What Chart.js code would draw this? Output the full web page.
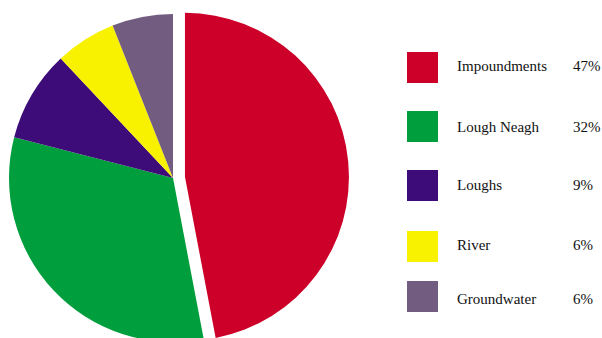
<!DOCTYPE html>
<html>
<head>
<meta charset="utf-8">
<title>Water sources</title>
<script src="https://cdn.jsdelivr.net/npm/chart.js@4/dist/chart.umd.min.js"></script>
<style>
  html, body { margin: 0; padding: 0; background: #fff; overflow: hidden; }
  body { width: 602px; height: 338px; position: relative; }
  .pie-wrap { position: absolute; left: 0; top: 0; width: 380px; height: 356px; }
  .legend { position: absolute; left: 407px; top: 0; font-family: "Liberation Serif", "DejaVu Serif", serif; font-size: 15px; color: #111; }
  .legend .box { position: absolute; left: 0; width: 31px; height: 31px; }
  .legend .name { position: absolute; left: 50px; white-space: nowrap; line-height: 17px; }
  .legend .pct { position: absolute; left: 166px; line-height: 17px; }
</style>
</head>
<body>
<div class="pie-wrap"><canvas id="sourcesChart"></canvas></div>
<div class="legend" id="legend"></div>
<script>
  // share of supply by source (%)
  const sources = ["Impoundments", "Lough Neagh", "Loughs", "River", "Groundwater"];
  const shares = [47, 32, 9, 6, 6];
  const colours = ["#cc0029", "#009e3d", "#3d0c78", "#f8f200", "#725c80"];

  // how far each slice is pulled out of the pie, in px
  const explode = [12, 0, 0, 0, 0];
  // legend rows: swatch tops and text tops
  const boxTops = [52, 111, 170, 231, 281];
  const textTops = [58, 119, 177, 237, 291];

  // move exploded slices along their mid angle without growing them
  const explodePlugin = {
    id: "explode",
    afterDatasetUpdate: function (chart, args) {
      args.meta.data.forEach(function (arc, i) {
        var d = explode[i] || 0;
        if (!d) return;
        var mid = (arc.startAngle + arc.endAngle) / 2;
        arc.x += Math.cos(mid) * d;
        arc.y += Math.sin(mid) * d;
      });
    }
  };

  new Chart(document.getElementById("sourcesChart"), {
    type: "pie",
    data: {
      labels: sources,
      datasets: [{
        data: shares,
        backgroundColor: colours,
        borderWidth: 0,
        radius: 164,
        clip: false
      }]
    },
    options: {
      responsive: true,
      maintainAspectRatio: false,
      animation: false,
      layout: { padding: { left: 0, top: 0, right: 34, bottom: 0 } },
      plugins: {
        legend: { display: false },
        tooltip: { enabled: false }
      }
    },
    plugins: [explodePlugin]
  });

  // legend on the right: swatch, name, percentage
  var legend = document.getElementById("legend");
  sources.forEach(function (name, i) {
    legend.insertAdjacentHTML("beforeend",
      '<div class="box" style="top:' + boxTops[i] + 'px;background:' + colours[i] + '"></div>' +
      '<div class="name" style="top:' + textTops[i] + 'px">' + name + '</div>' +
      '<div class="pct" style="top:' + textTops[i] + 'px">' + shares[i] + '%</div>');
  });
</script>
</body>
</html>
